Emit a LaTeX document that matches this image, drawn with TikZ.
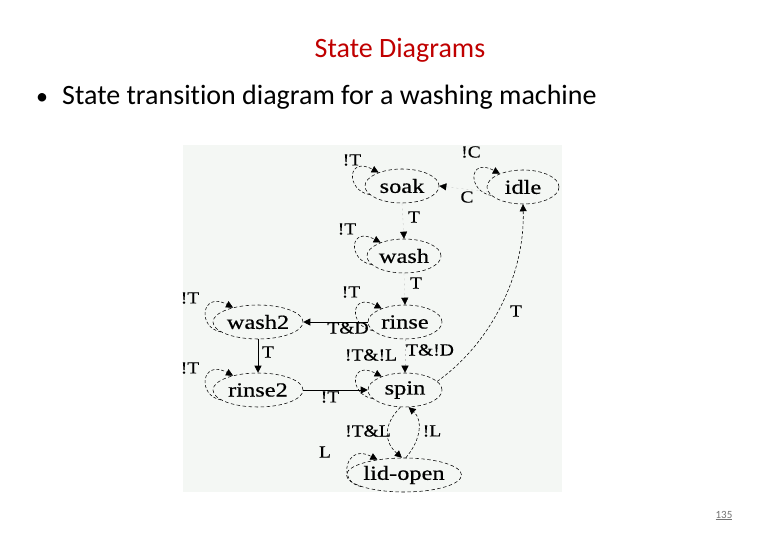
\documentclass[tikz,border=0pt]{standalone}
\usepackage{fontspec}
\setmainfont[Ligatures=NoCommon]{Carlito}
\newfontfamily\dfont[FakeStretch=1.22,FakeBold=0.6]{Liberation Serif}
\newfontfamily\lfont[FakeStretch=1.15,FakeBold=0.4]{Liberation Serif}
\usetikzlibrary{arrows.meta,shapes.geometric}
\definecolor{titlered}{RGB}{192,0,0}
\definecolor{diagbg}{RGB}{244,247,244}
\tikzset{
  state/.style={ellipse, draw, dash pattern=on 3.5pt off 2.5pt, line width=0.55pt, inner sep=0pt,
    minimum height=34pt, font=\dfont\fontsize{20}{20}\selectfont},
  tip/.style={-{Triangle[length=7pt,width=7pt,black]}},
  dedge/.style={tip, line width=0.55pt, dash pattern=on 3pt off 2pt},
  fedge/.style={tip, draw=black!25, line width=0.3pt, dash pattern=on 2pt off 3pt},
  sedge/.style={tip, line width=0.8pt},
  lbl/.style={inner sep=0pt, font=\lfont\fontsize{17}{17}\selectfont}
}
\begin{document}
\begin{tikzpicture}[x=1pt,y=-1pt]
\useasboundingbox (0,0) rectangle (780,540);
\fill[white] (0,0) rectangle (780,540);
\node[font=\fontsize{28}{32}\selectfont, text=titlered, anchor=base, inner sep=0pt] (title) at (400,58) {State Diagrams};
\node[font=\fontsize{24}{28}\selectfont, anchor=base west, inner sep=0pt] (bullet) at (36,105) {\textbullet};
\node[font=\fontsize{28}{32}\selectfont, anchor=base west, inner sep=0pt] (sub) at (62,105) {State transition diagram for a washing machine};
\node[font=\fontsize{11}{12}\selectfont, text=black!55, anchor=base, inner sep=0pt] (pnum) at (724,518) {\underline{135}};
\fill[diagbg] (183,145) rectangle (562,492);
% states
\node[state, minimum width=74pt] (soak) at (402,186) {soak};
\node[state, minimum width=72pt] (idle) at (523,187) {idle};
\node[state, minimum width=74pt] (wash) at (404,256) {wash};
\node[state, minimum width=74pt] (rinse) at (405,322) {rinse};
\node[state, minimum width=90pt] (wash2) at (258,322) {wash2};
\node[state, minimum width=90pt] (rinse2) at (258,390) {rinse2};
\node[state, minimum width=74pt] (spin) at (405,390) {spin};
\node[state, minimum width=108pt] (lid) at (404,475) {lid-open};
% self loops
\foreach \n in {soak,idle,wash,rinse,wash2,rinse2,spin,lid}{
  \draw[dedge] (\n.195) .. controls +(-24,-4) and +(-32,-17) .. (\n.150);
}
% edges
\draw[fedge] (idle.188) -- (soak.east);
\draw[fedge] (soak.south) -- (wash.north);
\draw[fedge] (wash.south) -- (rinse.north);
\draw[fedge] (rinse.south) -- (spin.north);
\draw[sedge] (rinse.west) -- (wash2.east);
\draw[sedge] (wash2.south) -- (rinse2.north);
\draw[sedge] (rinse2.east) -- (spin.west);
\draw[dedge] (spin.15) .. controls (495,340) and (525,270) .. (idle.south);
\draw[dedge] (spin.255) .. controls (383,425) and (384,442) .. (lid.97);
\draw[dedge] (lid.84) .. controls (421,440) and (423,420) .. (spin.282);
% labels
\node[lbl] (l1) at (352,160) {!T};
\node[lbl] (l2) at (471,152) {!C};
\node[lbl] (l3) at (467,197) {C};
\node[lbl] (l4) at (414,217) {T};
\node[lbl] (l5) at (347,229) {!T};
\node[lbl] (l6) at (416,283) {T};
\node[lbl] (l7) at (351,292) {!T};
\node[lbl] (l8) at (190,298) {!T};
\node[lbl] (l9) at (348,328) {T\&D};
\node[lbl] (l10) at (268,352) {T};
\node[lbl] (l11) at (371,355) {!T\&!L};
\node[lbl] (l12) at (430,350) {T\&!D};
\node[lbl] (l13) at (190,368) {!T};
\node[lbl] (l14) at (330,397) {!T};
\node[lbl] (l15) at (516,311) {T};
\node[lbl] (l16) at (368,431) {!T\&L};
\node[lbl] (l17) at (432,431) {!L};
\node[lbl] (l18) at (325,452) {L};
\end{tikzpicture}
\end{document}
